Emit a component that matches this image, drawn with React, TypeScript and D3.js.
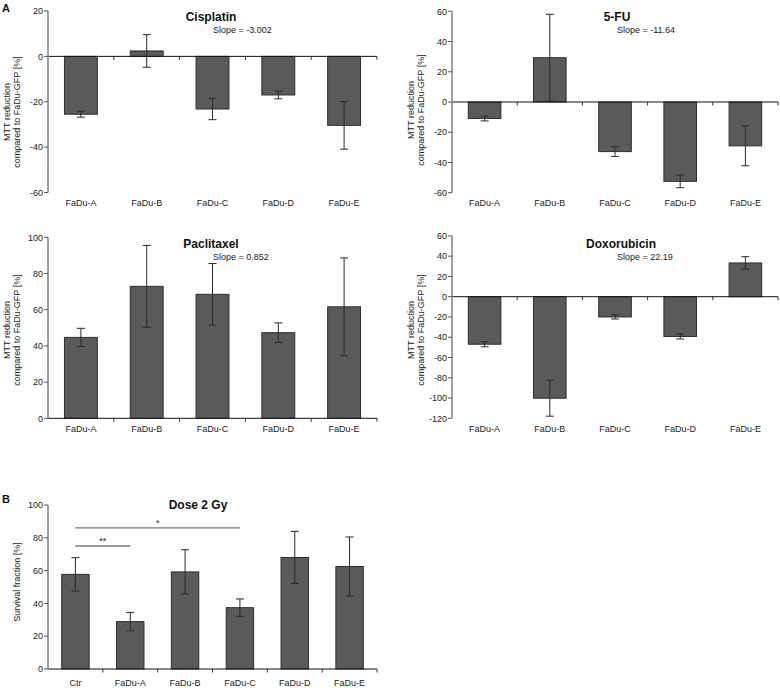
import React from "react";
import * as d3 from "d3";

const categories = ["FaDu-A", "FaDu-B", "FaDu-C", "FaDu-D", "FaDu-E"];
const doseCategories = ["Ctr", "FaDu-A", "FaDu-B", "FaDu-C", "FaDu-D", "FaDu-E"];

const cisplatinMean = [-25.5, 2.4, -23.2, -17, -30.4];
const cisplatinErr = [1.3, 7.2, 4.7, 1.7, 10.5];
const fuMean = [-10.9, 29.3, -32.8, -52.5, -29];
const fuErr = [1.6, 28.7, 3.2, 4.2, 13.2];
const paclitaxelMean = [44.7, 72.9, 68.5, 47.3, 61.6];
const paclitaxelErr = [5, 22.6, 17, 5.4, 27];
const doxoMean = [-46.9, -100.2, -20, -39.3, 33.3];
const doxoErr = [2.5, 17.7, 2, 2.4, 6.2];
const doseMean = [57.7, 28.9, 59.2, 37.4, 68, 62.5];
const doseErr = [10.2, 5.6, 13.5, 5.3, 15.9, 18];

const titles = ["Cisplatin", "5-FU", "Paclitaxel", "Doxorubicin", "Dose 2 Gy"];
const slopes = ["Slope = -3.002", "Slope = -11.64", "Slope = 0.852", "Slope = 22.19", ""];
const mttLabel = ["MTT reduction", "compared to FaDu-GFP [%]"];
const survivalLabel = ["Survival fraction [%]"];

const FONT = "'Liberation Sans', Arial, sans-serif";

type PanelProps = {
  cats: string[];
  mean: number[];
  err: number[];
  domain: [number, number];
  left: number;
  right: number;
  top: number;
  bottom: number;
  title: string;
  slope: string;
  titleX: number;
  titleY: number;
  slopeX: number;
  slopeY: number;
  labelY: number;
  ylabel: string[];
  ylabelX: number[];
  ylabelCy: number;
  children?: React.ReactNode;
};

function Panel(p: PanelProps) {
  const y = d3.scaleLinear().domain(p.domain).range([p.bottom, p.top]);
  const x = d3.scaleBand().domain(p.cats).range([p.left, p.right]).paddingInner(0).paddingOuter(0);
  const bw = x.bandwidth() * 0.5;
  const ticks = d3.range(p.domain[0], p.domain[1] + 0.001, 20);
  const y0 = y(0);
  const bounds = p.cats.map((c) => (x(c) as number) + x.bandwidth());
  return (
    <g>
      {p.cats.map((c, i) => {
        const cx = (x(c) as number) + x.bandwidth() / 2;
        const v = p.mean[i];
        const yt = Math.min(y(v), y0);
        const h = Math.abs(y(v) - y0);
        return (
          <rect key={"b" + c} x={cx - bw / 2} y={yt} width={bw} height={h}
            fill="#5a5a5a" stroke="#2e2e2e" strokeWidth={1} />
        );
      })}
      <line x1={p.left} x2={p.right} y1={y0} y2={y0} stroke="#111" strokeWidth={1} />
      {bounds.map((bx, i) => (
        <line key={"xt" + i} x1={bx} x2={bx} y1={y0} y2={y0 + 3.5} stroke="#333" strokeWidth={1} />
      ))}
      <line x1={p.left} x2={p.left} y1={p.top} y2={p.bottom} stroke="#8a8a8a" strokeWidth={1.6} />
      {ticks.map((t) => (
        <g key={"yt" + t}>
          <line x1={p.left - 4} x2={p.left} y1={y(t)} y2={y(t)} stroke="#555" strokeWidth={1} />
          <text x={p.left - 5} y={y(t) + 3.2} textAnchor="end" fontSize={9} fill="#222" fontFamily={FONT}>{t}</text>
        </g>
      ))}
      {p.cats.map((c, i) => {
        const cx = (x(c) as number) + x.bandwidth() / 2;
        const hi = y(p.mean[i] + p.err[i]);
        const lo = y(p.mean[i] - p.err[i]);
        return (
          <g key={"e" + c} stroke="#2a2a2a" strokeWidth={1}>
            <line x1={cx} x2={cx} y1={hi} y2={lo} />
            <line x1={cx - 4} x2={cx + 4} y1={hi} y2={hi} />
            <line x1={cx - 4} x2={cx + 4} y1={lo} y2={lo} />
          </g>
        );
      })}
      {p.cats.map((c) => (
        <text key={"l" + c} x={(x(c) as number) + x.bandwidth() / 2} y={p.labelY} textAnchor="middle"
          fontSize={9} fill="#222" fontFamily={FONT}>{c}</text>
      ))}
      <text x={p.titleX} y={p.titleY} textAnchor="middle" fontSize={12} fontWeight="bold" fill="#111" fontFamily={FONT}>{p.title}</text>
      {p.slope && (
        <text x={p.slopeX} y={p.slopeY} fontSize={9} fill="#222" fontFamily={FONT}>{p.slope}</text>
      )}
      {p.ylabel.map((s, i) => (
        <text key={"yl" + i} transform={`translate(${p.ylabelX[i]},${p.ylabelCy}) rotate(-90)`} textAnchor="middle"
          fontSize={9} fill="#222" fontFamily={FONT}>{s}</text>
      ))}
      {p.children}
    </g>
  );
}

function Significance() {
  const x = d3.scaleBand().domain(doseCategories).range([48, 377]);
  const y = d3.scaleLinear().domain([0, 100]).range([669, 505]);
  const c = (k: string) => (x(k) as number) + x.bandwidth() / 2;
  const sig = [
    { from: "Ctr", to: "FaDu-C", level: 86, mark: "*" },
    { from: "Ctr", to: "FaDu-A", level: 75, mark: "**" },
  ];
  return (
    <g>
      {sig.map((s) => (
        <g key={s.mark}>
          <line x1={c(s.from)} x2={c(s.to)} y1={y(s.level)} y2={y(s.level)} stroke="#777" strokeWidth={1.3} />
          <text x={(c(s.from) + c(s.to)) / 2} y={y(s.level) - 2} textAnchor="middle" fontSize={9} fill="#222" fontFamily={FONT}>{s.mark}</text>
        </g>
      ))}
    </g>
  );
}

export default function App() {
  return (
    <svg width={780} height={688} style={{ position: "absolute", left: 0, top: 0, background: "#fff" }}>
      <rect width={780} height={688} fill="#fff" />
      <text x={2} y={12} fontSize={11} fontWeight="bold" fill="#111" fontFamily={FONT}>A</text>
      <text x={2} y={503} fontSize={11} fontWeight="bold" fill="#111" fontFamily={FONT}>B</text>
      <Panel cats={categories} mean={cisplatinMean} err={cisplatinErr} domain={[-60, 20]}
        left={48} right={377} top={11} bottom={192.5}
        title={titles[0]} slope={slopes[0]} titleX={211} titleY={21} slopeX={213} slopeY={33}
        labelY={206} ylabel={mttLabel} ylabelX={[10, 20]} ylabelCy={112} />
      <Panel cats={categories} mean={fuMean} err={fuErr} domain={[-60, 60]}
        left={452} right={778} top={11.3} bottom={192.7}
        title={titles[1]} slope={slopes[1]} titleX={617} titleY={21} slopeX={617} slopeY={33}
        labelY={206} ylabel={mttLabel} ylabelX={[414, 424]} ylabelCy={110} />
      <Panel cats={categories} mean={paclitaxelMean} err={paclitaxelErr} domain={[0, 100]}
        left={48} right={377} top={237.3} bottom={418.3}
        title={titles[2]} slope={slopes[2]} titleX={211} titleY={248} slopeX={213} slopeY={260}
        labelY={432} ylabel={mttLabel} ylabelX={[10, 20]} ylabelCy={330} />
      <Panel cats={categories} mean={doxoMean} err={doxoErr} domain={[-120, 60]}
        left={452} right={778} top={235.9} bottom={418.3}
        title={titles[3]} slope={slopes[3]} titleX={621} titleY={248} slopeX={617} slopeY={260}
        labelY={432} ylabel={mttLabel} ylabelX={[414, 424]} ylabelCy={330} />
      <Panel cats={doseCategories} mean={doseMean} err={doseErr} domain={[0, 100]}
        left={48} right={377} top={505} bottom={669}
        title={titles[4]} slope={slopes[4]} titleX={198} titleY={509} slopeX={0} slopeY={0}
        labelY={686} ylabel={survivalLabel} ylabelX={[20]} ylabelCy={582}>
        <Significance />
      </Panel>
    </svg>
  );
}
